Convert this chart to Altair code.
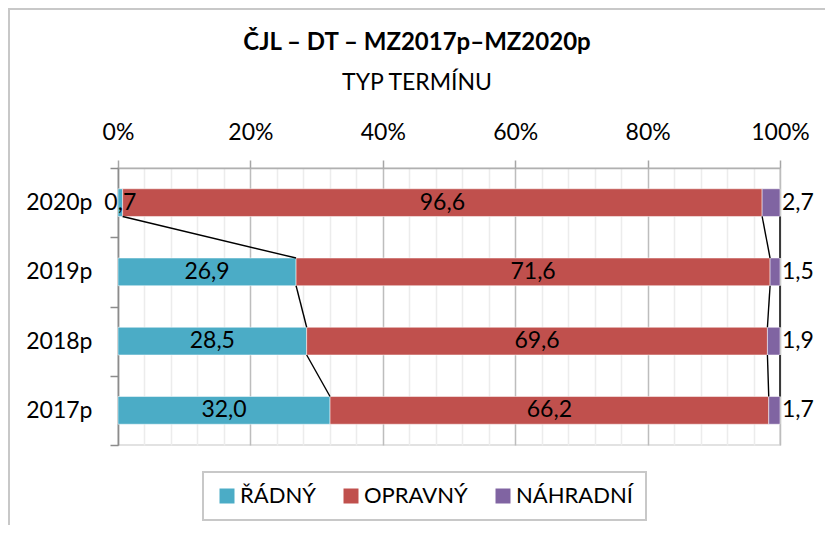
import altair as alt
import pandas as pd

years = ["2017p", "2018p", "2019p", "2020p"]
categories = ["ŘÁDNÝ", "OPRAVNÝ", "NÁHRADNÍ"]
radny = [32.0, 28.5, 26.9, 0.7]
opravny = [66.2, 69.6, 71.6, 96.6]
nahradni = [1.7, 1.9, 1.5, 2.7]
colors = ["#4BACC6", "#C0504D", "#8064A2"]

FONT = "Lato"
HALF = 0.2  # half bar thickness in category units

series = [radny, opravny, nahradni]
rows = []
cums = []
for i, y in enumerate(years):
    total = sum(s[i] for s in series)
    start = 0.0
    bounds = []
    for c, s in zip(categories, series):
        v = s[i]
        end = start + v / total * 100
        rows.append({
            "year": y, "idx": i, "cat": c, "order": categories.index(c),
            "start": start, "end": end, "mid": (start + end) / 2,
            "lo": i - HALF, "hi": i + HALF,
            "label": f"{v:.1f}".replace(".", ","),
        })
        bounds.append(end)
        start = end
    cums.append(bounds)
bars = pd.DataFrame(rows)

seg = []
for i in range(1, len(years)):
    for k in range(len(categories)):
        seg.append({"x": cums[i][k], "x2": cums[i - 1][k],
                    "y": i - HALF, "y2": i - 1 + HALF})
segs = pd.DataFrame(seg)

xscale = alt.Scale(domain=[0, 100], nice=False, zero=False)
yscale = alt.Scale(domain=[-0.5, len(years) - 0.5], nice=False, zero=False)

label_arr = "[" + ",".join(f"'{y}'" for y in years) + "]"

xaxis = alt.Axis(
    orient="top", values=list(range(0, 101, 4)), title=None,
    labelExpr="datum.value % 20 === 0 ? datum.value + '%' : ''",
    labelFlush=False, labelOverlap=False, labelFont=FONT, labelFontSize=23,
    labelColor="black", labelPadding=16,
    tickSize=8, tickColor="#a6a6a6", tickWidth=1.5,
    tickOpacity={"condition": {"test": "datum.value % 20 === 0", "value": 1}, "value": 0},
    grid=True,
    gridColor={"condition": {"test": "datum.value % 20 === 0", "value": "#bdbdbd"}, "value": "#ececec"},
    gridWidth=1.5,
    domainColor="#b0b0b0", domainWidth=1.5,
)
yaxis = alt.Axis(
    values=[v / 2 for v in range(-1, 2 * len(years))], title=None,
    labelExpr=f"datum.value % 1 === 0 ? {label_arr}[datum.value] : ''",
    labelFlush=False, labelOverlap=False, labelFont=FONT, labelFontSize=23,
    labelColor="black", labelPadding=18, labelBaseline="middle",
    tickSize=8, tickColor="#8c8c8c", tickWidth=1.5,
    tickOpacity={"condition": {"test": "datum.value % 1 !== 0", "value": 1}, "value": 0},
    grid=False, domainColor="#8c8c8c", domainWidth=1.5,
)


def X(field):
    return alt.X(field, type="quantitative", scale=xscale, axis=xaxis)


def Y(field):
    return alt.Y(field, type="quantitative", scale=yscale, axis=yaxis)


base = alt.Chart(bars)

bar_layer = base.mark_bar(stroke="white", strokeWidth=0.5).encode(
    x=X("start"), x2="end", y=Y("lo"), y2="hi",
    color=alt.Color("cat:N", scale=alt.Scale(domain=categories, range=colors),
                    legend=alt.Legend(title=None)),
    order="order:Q",
)

line_layer = alt.Chart(segs).mark_rule(color="black", strokeWidth=1.4).encode(
    x=X("x"), x2="x2", y=Y("y"), y2="y2",
)

inner = base.transform_filter(alt.datum.cat != categories[-1]).mark_text(
    font=FONT, fontSize=23, color="black", baseline="middle", align="center"
).encode(x=X("mid"), y=Y("idx"), text="label:N")

outer = base.transform_filter(alt.datum.cat == categories[-1]).mark_text(
    font=FONT, fontSize=23, color="black", baseline="middle", align="left", dx=2
).encode(x=X("end"), y=Y("idx"), text="label:N")

# chart-area frame (top and left edges, as in the original)
frame_top = alt.Chart(pd.DataFrame({"k": [0]})).mark_rule(
    color="#c8c8c8", strokeWidth=2
).encode(x=alt.value(-110), x2=alt.value(720), y=alt.value(-159))
frame_left = alt.Chart(pd.DataFrame({"k": [0]})).mark_rule(
    color="#c8c8c8", strokeWidth=2
).encode(x=alt.value(-109), y=alt.value(-160), y2=alt.value(360))

chart = alt.layer(bar_layer, line_layer, inner, outer, frame_top, frame_left).properties(
    width=662, height=277,
    autosize=alt.AutoSizeParams(type="none"),
    padding={"left": 110, "top": 160, "right": 45, "bottom": 80},
    title=alt.TitleParams(
        text="ČJL – DT – MZ2017p–MZ2020p", subtitle="TYP TERMÍNU",
        font=FONT, fontSize=24, fontWeight="bold", color="black",
        subtitleFont=FONT, subtitleFontSize=23, subtitleColor="black",
        subtitlePadding=17, anchor="middle", dx=-32, dy=88, offset=0,
    ),
).configure_axis(labelOverlap=False).configure_view(
    stroke="#d9d9d9", strokeWidth=1.5
).configure_legend(
    orient="none", legendX=85, legendY=304, direction="horizontal",
    symbolType="square", symbolSize=225, symbolStrokeWidth=0,
    labelFont=FONT, labelFontSize=22, labelColor="black", labelOffset=2,
    columnPadding=24, padding=13, strokeColor="#c8c8c8", strokeWidth=2,
)

chart.save("out.html", embed_options={"renderer": "svg", "actions": False})
